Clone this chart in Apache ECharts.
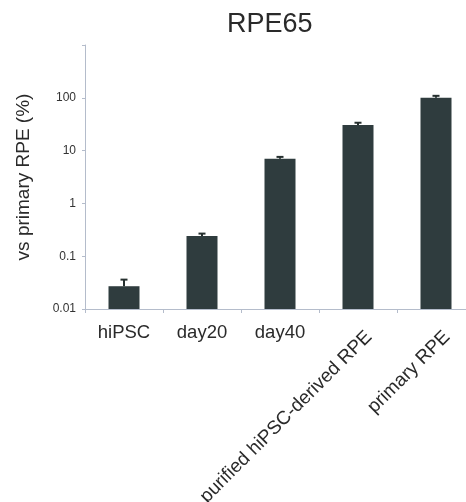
<!DOCTYPE html>
<html>
<head>
<meta charset="utf-8">
<script src="https://cdn.jsdelivr.net/npm/echarts@6/dist/echarts.min.js"></script>
<style>html,body{margin:0;padding:0;background:#fff;}#c{width:466px;height:502px;}</style>
</head>
<body>
<div id="c"></div>
<script>
const categories = ['hiPSC', 'day20', 'day40', 'purified hiPSC-derived RPE', 'primary RPE'];
const values = [0.027, 0.24, 7.0, 30.5, 100];
const errors = [0.009, 0.028, 0.6, 3.2, 9];
const yTicks = [0.01, 0.1, 1, 10, 100];
const rotatedFrom = 3;
const FONT = '"Liberation Sans", Arial, sans-serif';
const AXIS_MIN = 0.01, AXIS_MAX = 1000;

const chart = echarts.init(document.getElementById('c'), null, {renderer: 'canvas'});
const barData = values.map((v, i) => [i, v]);
const errData = values.map((v, i) => [i, v, v + errors[i]]);

chart.setOption({
  animation: false,
  backgroundColor: '#ffffff',
  title: {
    text: 'RPE65', left: 222, top: 6,
    textStyle: {fontFamily: FONT, fontSize: 27, fontWeight: 'normal', color: '#2a2a2a'}
  },
  grid: [
    {left: 85, right: -9, top: 45, bottom: 193, outerBoundsMode: 'none', containLabel: false},
    {left: 96, right: -20, top: 45, bottom: 193, outerBoundsMode: 'none', containLabel: false}
  ],
  xAxis: [
    {
      type: 'category', gridIndex: 0, data: categories,
      axisLine: {lineStyle: {color: '#b4bccb', width: 1}},
      axisTick: {show: true, length: 4, lineStyle: {color: '#b4bccb'}},
      axisLabel: {
        interval: 0, margin: 14, fontFamily: FONT, fontSize: 18.5, color: '#2a2a2a',
        formatter: (v, i) => (i < rotatedFrom ? v : '')
      }
    },
    {
      type: 'category', gridIndex: 1, data: categories,
      axisLine: {show: false}, axisTick: {show: false},
      axisLabel: {
        interval: 0, rotate: 45, margin: 25, fontFamily: FONT, fontSize: 19, color: '#2a2a2a',
        formatter: (v, i) => (i >= rotatedFrom ? v : '')
      }
    }
  ],
  yAxis: [
    {
      type: 'log', logBase: 10, gridIndex: 0, min: AXIS_MIN, max: AXIS_MAX,
      name: 'vs primary RPE (%)', nameLocation: 'middle', nameGap: 52,
      nameTextStyle: {fontFamily: FONT, fontSize: 19, color: '#2a2a2a'},
      axisLine: {show: true, lineStyle: {color: '#b4bccb', width: 1}},
      axisTick: {show: true, length: 3, lineStyle: {color: '#b4bccb'}},
      splitLine: {show: false},
      axisLabel: {
        margin: 9, fontFamily: FONT, fontSize: 12, color: '#333',
        formatter: v => {
          const n = +(+v).toPrecision(3);
          return yTicks.indexOf(n) >= 0 ? String(n) : '';
        }
      }
    },
    {type: 'log', gridIndex: 1, min: AXIS_MIN, max: AXIS_MAX, show: false}
  ],
  series: [
    {
      type: 'custom', xAxisIndex: 0, yAxisIndex: 0, data: barData, z: 3,
      renderItem: (params, api) => {
        const top = api.coord([api.value(0), api.value(1)]);
        const base = api.coord([api.value(0), AXIS_MIN]);
        const w = 31;
        return {
          type: 'rect',
          shape: {x: top[0] - w / 2, y: top[1], width: w, height: base[1] - top[1]},
          style: {fill: '#2f3c3e'}
        };
      }
    },
    {
      type: 'custom', xAxisIndex: 0, yAxisIndex: 0, data: errData, z: 5,
      renderItem: (params, api) => {
        const base = api.coord([api.value(0), api.value(1)]);
        const top = api.coord([api.value(0), api.value(2)]);
        const style = {stroke: '#26302f', lineWidth: 2};
        return {
          type: 'group',
          children: [
            {type: 'line', shape: {x1: base[0], y1: base[1], x2: top[0], y2: top[1]}, style},
            {type: 'line', shape: {x1: top[0] - 3.5, y1: top[1], x2: top[0] + 3.5, y2: top[1]}, style}
          ]
        };
      }
    }
  ]
});
</script>
</body>
</html>
